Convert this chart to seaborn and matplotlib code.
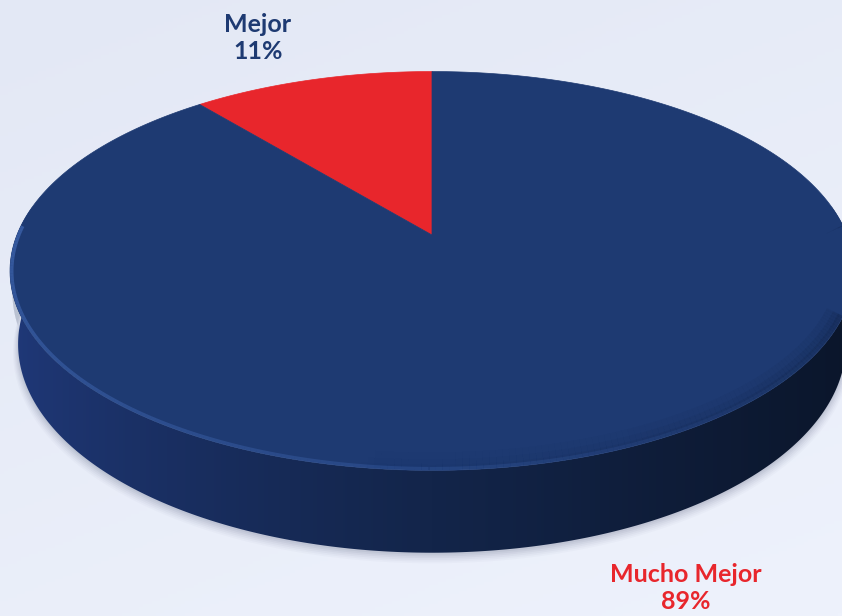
import numpy as np
import pandas as pd
import matplotlib
matplotlib.use("Agg")
import matplotlib.pyplot as plt
from matplotlib.collections import LineCollection
from matplotlib.patches import Polygon
from matplotlib.colors import to_rgb
import seaborn as sns

# Survey shares
categories = ["Mucho Mejor", "Mejor"]
shares = [89, 11]
label_colors = ["#e8262c", "#1e3a72"]

df = pd.DataFrame({"categoria": categories, "porcentaje": shares})

sns.set_theme(style="white")
plt.rcParams["font.family"] = ["Lato", "DejaVu Sans"]
face_colors = sns.color_palette(["#1e3a72", "#e8262c"])

W, H = 842, 616
fig = plt.figure(figsize=(W / 100, H / 100), dpi=100)
ax = fig.add_axes([0, 0, 1, 1])
ax.set_xlim(0, W)
ax.set_ylim(H, 0)
ax.axis("off")

# soft diagonal background
gx, gy = np.meshgrid(np.linspace(0, 1, 200), np.linspace(0, 1, 200))
g = (0.35 * gx + 0.65 * gy)[..., None]
c0 = np.array(to_rgb("#e3e8f5"))
c1 = np.array(to_rgb("#eef2fc"))
ax.imshow(c0 * (1 - g) + c1 * g, extent=(0, W, H, 0), aspect="auto", zorder=0)

# perspective projection of a unit-radius disc
phi = np.radians(27.7)
sp, cp = np.sin(phi), np.cos(phi)
D, F = 4.91, 2038.0
cx, cy = 432.0, 235.0
depth = 0.2


def project(x, y, z):
    yc = y * sp + z * cp
    zc = D + y * cp - z * sp
    return cx + F * x / zc, cy - F * yc / zc


# ground shadow just below the bottom rim
tt = np.linspace(np.pi, 2 * np.pi, 300)
for k, a, dv in zip(np.linspace(1.012, 1.0, 6), np.linspace(0.03, 0.08, 6),
                    np.linspace(7, 2, 6)):
    u, v = project(k * np.cos(tt), k * np.sin(tt), -depth)
    u0, v0 = project(np.cos(tt), np.sin(tt), -depth * 0.3)
    poly = np.column_stack([np.concatenate([u, u0[::-1]]),
                            np.concatenate([v + dv, v0[::-1]])])
    ax.add_patch(Polygon(poly, closed=True, color="#5a6480", alpha=a, lw=0, zorder=1))

# side wall: one outline filled with a left-to-right shading
ts = np.linspace(np.pi - 0.15, 2 * np.pi + 0.15, 400)
ut, vt = project(np.cos(ts), np.sin(ts), np.zeros_like(ts))
ub, vb = project(np.cos(ts), np.sin(ts), np.full_like(ts, -depth))
side = Polygon(np.column_stack([np.concatenate([ut, ub[::-1]]),
                                np.concatenate([vt, vb[::-1]])]),
               closed=True, fc="none", lw=0)
ax.add_patch(side)
side_left = np.array(to_rgb("#20397a"))
side_front = np.array(to_rgb("#13254a"))
side_right = np.array(to_rgb("#0b162b"))
sx = np.linspace(0, 1, 400)
cols = np.where(sx[:, None] < 0.5,
                side_left + (side_front - side_left) * (sx[:, None] / 0.5) ** 0.7,
                side_front + (side_right - side_front) * ((sx[:, None] - 0.5) / 0.5))
img = ax.imshow(cols[None, :, :], extent=(ut.min(), ut.max(), vb.max() + 2, vt.min()),
                aspect="auto", zorder=2, interpolation="bilinear")
img.set_clip_path(side)

# top face wedges: the smaller share starts at twelve o'clock, counterclockwise
fracs = df["porcentaje"].to_numpy() / df["porcentaje"].sum()
start = np.pi / 2
for i in [1, 0]:
    sweep = 2 * np.pi * fracs[i]
    th = np.linspace(start, start + sweep, 300)
    xs = np.concatenate([[0], np.cos(th)])
    ys = np.concatenate([[0], np.sin(th)])
    u, v = project(xs, ys, np.zeros_like(xs))
    col = face_colors[0 if i == 0 else 1]
    ax.fill(u, v, color=col, lw=0.5, ec=col, zorder=3)
    start += sweep

# outline of the whole top face, used to keep rim shading inside it
tf = np.linspace(0, 2 * np.pi, 600)
uf, vf = project(np.cos(tf), np.sin(tf), np.zeros_like(tf))
top_outline = Polygon(np.column_stack([uf, vf]), closed=True, fc="none", lw=0)
ax.add_patch(top_outline)

tr = np.linspace(np.pi - 0.05, 2 * np.pi + 0.05, 240)
u, v = project(np.cos(tr), np.sin(tr), np.zeros_like(tr))
pts = np.column_stack([u, v])
segs = np.stack([pts[:-1], pts[1:]], axis=1)
sfrac = (tr[:-1] - tr[0]) / (tr[-1] - tr[0])

# bevel highlight along the front-left rim
alphas = np.clip(0.6 * (1 - sfrac) ** 1.3, 0, 1)
hl = [(0.28, 0.44, 0.75, a) for a in alphas]
lc = LineCollection(segs, colors=hl, linewidths=5, zorder=4)
ax.add_collection(lc)
lc.set_clip_path(top_outline)

# darker rim toward the right edge of the top face
for w, a in [(26, 0.08), (16, 0.12), (8, 0.18)]:
    alphas = np.clip(a * (sfrac - 0.45) / 0.55, 0, 1)
    dk = [(0.04, 0.08, 0.16, x) for x in alphas]
    lc = LineCollection(segs, colors=dk, linewidths=w, zorder=4)
    ax.add_collection(lc)
    lc.set_clip_path(top_outline)

# labels
ax.text(258, 38, f"{categories[1]}\n{shares[1]}%", ha="center", va="center",
        fontsize=18, fontweight="bold", color=label_colors[1],
        linespacing=1.25, zorder=5)
ax.text(686, 588, f"{categories[0]}\n{shares[0]}%", ha="center", va="center",
        fontsize=18, fontweight="bold", color=label_colors[0],
        linespacing=1.25, zorder=5)

fig.savefig("out.png", dpi=100)
